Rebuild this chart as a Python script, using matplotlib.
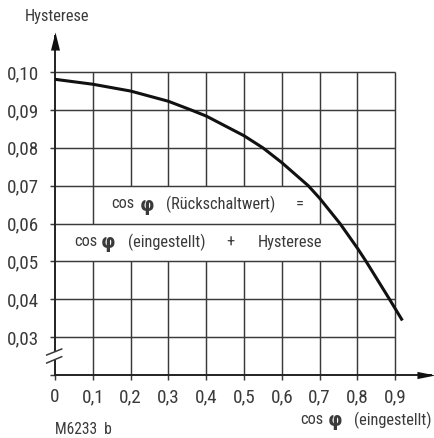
import matplotlib
matplotlib.use("Agg")
import matplotlib.pyplot as plt
import matplotlib.font_manager as fm
from matplotlib.patches import Polygon

# ---- data ----
cos_phi = [0, 0.1, 0.2, 0.3, 0.36, 0.4, 0.5, 0.55, 0.6, 0.67, 0.7, 0.754, 0.8, 0.823, 0.885, 0.919]
hyst = [0.0981, 0.0968, 0.0950, 0.0923, 0.0900, 0.0884, 0.0832, 0.0800, 0.0761, 0.0700,
        0.0667, 0.0600, 0.0535, 0.0500, 0.0400, 0.0344]
x_ticks = [0, 0.1, 0.2, 0.3, 0.4, 0.5, 0.6, 0.7, 0.8, 0.9]
x_labels = ["0", "0,1", "0,2", "0,3", "0,4", "0,5", "0,6", "0,7", "0,8", "0,9"]
y_ticks = [0.03, 0.04, 0.05, 0.06, 0.07, 0.08, 0.09, 0.10]
y_labels = ["0,03", "0,04", "0,05", "0,06", "0,07", "0,08", "0,09", "0,10"]
# text panels (x0, x1, y0, y1) where vertical grid lines are left out
panels = [(0.1, 0.7, 0.06, 0.07), (0.0, 0.8, 0.05, 0.06)]

# ---- choose a condensed sans family ----
available = {f.name for f in fm.fontManager.ttflist}
prefs = ['Liberation Sans Narrow', 'Roboto Condensed', 'Archivo Narrow', 'PT Sans Narrow',
         'Pragati Narrow', 'IBM Plex Sans Condensed', 'Fira Sans Condensed', 'Open Sans Condensed',
         'Encode Sans Condensed', 'Asap Condensed', 'DejaVu Sans']
FAM = next(p for p in prefs if p in available)
plt.rcParams['font.family'] = [FAM, 'DejaVu Sans']

def fp(size, bold=False, fam=None):
    return fm.FontProperties(family=fam or [FAM, 'DejaVu Sans'], size=size,
                             weight='bold' if bold else 'normal')

W, H = 435, 438
fig = plt.figure(figsize=(W / 100, H / 100), dpi=100)
ax = fig.add_axes([55 / W, 63 / H, 380 / W, 343 / H])
X1 = 380 / 378.0
Y0, Y1 = 0.02, 0.02 + 343 / 3786.0
ax.set_xlim(0, X1)
ax.set_ylim(Y0, Y1)
for s in ax.spines.values():
    s.set_visible(False)
renderer = fig.canvas.get_renderer()

def fit_size(s, width_px, bold=False, fam=None):
    tt = fig.text(0, 0, s, fontproperties=fp(20, bold, fam))
    w = tt.get_window_extent(renderer).width
    tt.remove()
    return 20 * width_px / w

def px(xp, yp):
    return (xp - 55) / 378.0, 0.02 + (375 - yp) / 3786.0

grid_c = '#3a3a3a'
txt_c = '#3a3a3a'
# horizontal grid
ax.hlines(y_ticks, 0, 0.9, color=grid_c, lw=1.05, zorder=1)
# vertical grid, interrupted inside the text panels
for xv in x_ticks[1:]:
    cuts = sorted((p[2], p[3]) for p in panels if p[0] < xv - 1e-9 and xv < p[1] - 1e-9)
    merged = []
    for c in cuts:
        if merged and abs(merged[-1][1] - c[0]) < 1e-9:
            merged[-1] = (merged[-1][0], c[1])
        else:
            merged.append(c)
    start = Y0
    for c0, c1 in merged:
        ax.plot([xv, xv], [start, c0], color=grid_c, lw=1.05, zorder=1, solid_capstyle='butt')
        start = c1
    ax.plot([xv, xv], [start, 0.10], color=grid_c, lw=1.05, zorder=1, solid_capstyle='butt')

# axes with arrows
ax.plot([0, 0], [Y0, Y1 - 0.001], color='#222222', lw=1.4, zorder=3, clip_on=False)
ax.plot([0, X1 - 0.01], [Y0, Y0], color='#222222', lw=1.4, zorder=3, clip_on=False)
up = [(-0.25, -1), (0.25, -1), (0, 0)]
right = [(-1, -0.2), (-1, 0.2), (0, 0)]
ax.plot([0], [Y1], marker=up, ms=26, color='#111111', mew=0, clip_on=False, zorder=4)
ax.plot([X1], [Y0], marker=right, ms=26, color='#111111', mew=0, clip_on=False, zorder=4)

# ticks
tick_size = fit_size("0,10", 32)
ax.set_xticks(x_ticks, x_labels)
ax.set_yticks([0.02] + y_ticks, [""] + y_labels)
ax.tick_params(direction='out', length=3.5, width=1.05, color=grid_c, labelcolor=txt_c)
ax.tick_params(axis='x', pad=6)
ax.tick_params(axis='y', pad=8)
for lab in ax.get_xticklabels() + ax.get_yticklabels():
    lab.set_fontproperties(fp(tick_size))

# axis break
a1 = px(46.7, 363); a2 = px(61.7, 356.7); b1 = px(46.7, 355); b2 = px(61.7, 349)
ax.add_patch(Polygon([a1, a2, b2, b1], closed=True, fc='white', ec='none', zorder=5, clip_on=False))
ax.plot([a1[0], a2[0]], [a1[1], a2[1]], color=grid_c, lw=1.1, zorder=6, clip_on=False)
ax.plot([b1[0], b2[0]], [b1[1], b2[1]], color=grid_c, lw=1.1, zorder=6, clip_on=False)

# curve
ax.plot(cos_phi, hyst, color='#111111', lw=2.2, zorder=7, solid_capstyle='butt', solid_joinstyle='round')

# texts
fs = fit_size("(Rückschaltwert)", 109)
PHI_FAM = ['DejaVu Sans']
phi_fs = fit_size("φ", 14.5, bold=True, fam=PHI_FAM)
small_fs = fit_size("M6233  b", 57)

def t(xp, yp, s, bold=False, size=None, fam=None):
    x, y = px(xp, yp)
    ax.text(x, y, s, fontproperties=fp(size or fs, bold, fam), color=txt_c, ha='left', va='center',
            zorder=8, clip_on=False)

t(111, 204, "cos")
t(140, 205, "φ", bold=True, size=phi_fs, fam=PHI_FAM)
t(166, 204, "(Rückschaltwert)")
t(296, 204, "=")
t(74, 242, "cos")
t(101, 243, "φ", bold=True, size=phi_fs, fam=PHI_FAM)
t(128, 242, "(eingestellt)")
t(226, 242, "+")
t(258, 242, "Hysterese")
t(300, 420, "cos")
t(328, 421, "φ", bold=True, size=phi_fs, fam=PHI_FAM)
t(354, 420, "(eingestellt)")
t(25, 17, "Hysterese")
t(55, 430, "M6233  b", size=small_fs)

fig.savefig("out.png", dpi=100)
